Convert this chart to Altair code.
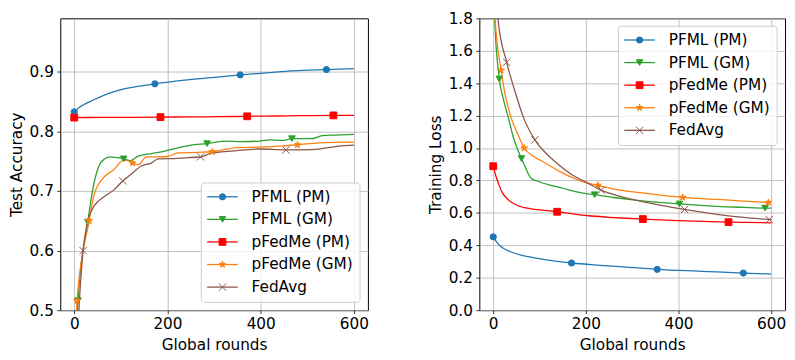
import altair as alt
import pandas as pd

SERIES = ["PFML (PM)", "PFML (GM)", "pFedMe (PM)", "pFedMe (GM)", "FedAvg"]
COLORS = ["#1f77b4", "#2ca02c", "#ff0000", "#ff7f0e", "#8c564b"]
STAR = ("M0,-1L0.2245,-0.309L0.9511,-0.309L0.3633,0.118L0.5878,0.809L0,0.382"
        "L-0.5878,0.809L-0.3633,0.118L-0.9511,-0.309L-0.2245,-0.309Z")
XMARK = "M-1,-1L1,1M-1,1L1,-1"
SHAPES = ["circle", "triangle-down", "square", STAR, XMARK]
SIZES = [40, 55, 45, 80, 45]

X_TICKS = [0, 200, 400, 600]
ACC_TICKS = [0.5, 0.6, 0.7, 0.8, 0.9]
LOSS_TICKS = [0.0, 0.2, 0.4, 0.6, 0.8, 1.0, 1.2, 1.4, 1.6, 1.8]

# ---------------- Test accuracy ----------------
acc_pfml_pm_r = [0, 10, 20, 39, 74, 109, 140, 173, 243, 300, 356, 420, 480, 541, 600]
acc_pfml_pm_v = [0.833, 0.840, 0.845, 0.852, 0.864, 0.872, 0.876, 0.880, 0.8866, 0.891, 0.895, 0.899, 0.902, 0.904, 0.9055]
acc_pfml_pm_m = [0, 173, 356, 541]

acc_pfml_gm_r = [0, 8, 29, 39, 53, 65, 77, 92, 106, 120, 137, 165, 194, 220, 250, 285, 327, 360, 398, 419, 447, 467, 490, 510, 532, 560, 600]
acc_pfml_gm_v = [0.30, 0.516, 0.648, 0.700, 0.742, 0.754, 0.7575, 0.756, 0.754, 0.751, 0.7586, 0.763, 0.767, 0.772, 0.777, 0.7796, 0.784, 0.783, 0.784, 0.786, 0.785, 0.788, 0.788, 0.788, 0.793, 0.794, 0.795]
acc_pfml_gm_m = [8, 29, 106, 285, 467]

acc_pfedme_pm_r = [0, 60, 120, 185, 250, 310, 371, 430, 490, 556, 600]
acc_pfedme_pm_v = [0.8234, 0.8236, 0.8237, 0.8241, 0.8245, 0.8248, 0.8255, 0.826, 0.8265, 0.827, 0.827]
acc_pfedme_pm_m = [0, 185, 371, 556]

acc_pfedme_gm_r = [0, 6, 32, 42, 60, 85, 106, 115, 125, 137, 155, 180, 200, 222, 264, 296, 349, 412, 450, 479, 525, 600]
acc_pfedme_gm_v = [0.30, 0.516, 0.650, 0.692, 0.720, 0.736, 0.752, 0.751, 0.747, 0.744, 0.7575, 0.7575, 0.758, 0.764, 0.765, 0.766, 0.773, 0.774, 0.776, 0.7776, 0.781, 0.782]
acc_pfedme_gm_m = [6, 32, 125, 296, 479]

acc_fedavg_r = [0, 10, 19, 28, 39, 53, 67, 85, 104, 120, 144, 165, 180, 222, 243, 271, 292, 349, 398, 454, 510, 574, 600]
acc_fedavg_v = [0.30, 0.50, 0.600, 0.647, 0.670, 0.684, 0.692, 0.702, 0.717, 0.727, 0.742, 0.747, 0.754, 0.755, 0.756, 0.7575, 0.763, 0.768, 0.7706, 0.769, 0.7696, 0.776, 0.777]
acc_fedavg_m = [19, 104, 271, 454]

# ---------------- Training loss ----------------
loss_pfml_pm_r = [0, 11, 20, 39, 60, 96, 130, 169, 230, 286, 354, 450, 540, 600]
loss_pfml_pm_v = [0.452, 0.407, 0.385, 0.359, 0.340, 0.320, 0.304, 0.291, 0.277, 0.266, 0.252, 0.240, 0.229, 0.223]
loss_pfml_pm_m = [0, 169, 354, 540]

loss_pfml_gm_r = [0, 3, 13, 22, 33, 44, 50, 61, 68, 75, 81, 96, 124, 150, 188, 219, 260, 307, 350, 402, 483, 540, 587, 600]
loss_pfml_gm_v = [2.05, 1.80, 1.426, 1.30, 1.183, 1.06, 1.01, 0.935, 0.89, 0.845, 0.815, 0.795, 0.77, 0.752, 0.725, 0.712, 0.695, 0.679, 0.667, 0.655, 0.640, 0.634, 0.630, 0.630]
loss_pfml_gm_m = [13, 61, 219, 402, 587]

loss_pfedme_pm_r = [0, 5, 12, 19, 33, 54, 82, 110, 138, 170, 202, 250, 286, 323, 399, 450, 508, 600]
loss_pfedme_pm_v = [0.888, 0.834, 0.776, 0.728, 0.679, 0.644, 0.625, 0.616, 0.607, 0.595, 0.584, 0.573, 0.567, 0.562, 0.553, 0.548, 0.543, 0.539]
loss_pfedme_pm_m = [0, 138, 323, 508]

loss_pfedme_gm_r = [0, 4, 17, 25, 39, 53, 67, 89, 110, 145, 181, 200, 226, 270, 307, 360, 409, 483, 540, 594, 600]
loss_pfedme_gm_v = [2.05, 1.80, 1.48, 1.339, 1.183, 1.086, 1.0, 0.945, 0.912, 0.853, 0.805, 0.786, 0.770, 0.742, 0.728, 0.710, 0.696, 0.683, 0.673, 0.664, 0.663]
loss_pfedme_gm_m = [17, 67, 226, 409, 594]

loss_fedavg_r = [0, 10, 29, 46, 66, 90, 124, 140, 170, 200, 233, 270, 307, 360, 413, 483, 540, 596, 600]
loss_fedavg_v = [2.20, 1.80, 1.529, 1.358, 1.183, 1.05, 0.94, 0.90, 0.835, 0.79, 0.74, 0.705, 0.679, 0.648, 0.621, 0.591, 0.573, 0.559, 0.558]
loss_fedavg_m = [29, 90, 233, 413, 596]


def build(rows):
    recs = []
    for name, rs, vs, ms in rows:
        for r, v in zip(rs, vs):
            recs.append({"series": name, "round": r, "value": v, "marker": r in ms})
    return pd.DataFrame(recs)


acc_df = build([
    (SERIES[0], acc_pfml_pm_r, acc_pfml_pm_v, acc_pfml_pm_m),
    (SERIES[1], acc_pfml_gm_r, acc_pfml_gm_v, acc_pfml_gm_m),
    (SERIES[2], acc_pfedme_pm_r, acc_pfedme_pm_v, acc_pfedme_pm_m),
    (SERIES[3], acc_pfedme_gm_r, acc_pfedme_gm_v, acc_pfedme_gm_m),
    (SERIES[4], acc_fedavg_r, acc_fedavg_v, acc_fedavg_m),
])
loss_df = build([
    (SERIES[0], loss_pfml_pm_r, loss_pfml_pm_v, loss_pfml_pm_m),
    (SERIES[1], loss_pfml_gm_r, loss_pfml_gm_v, loss_pfml_gm_m),
    (SERIES[2], loss_pfedme_pm_r, loss_pfedme_pm_v, loss_pfedme_pm_m),
    (SERIES[3], loss_pfedme_gm_r, loss_pfedme_gm_v, loss_pfedme_gm_m),
    (SERIES[4], loss_fedavg_r, loss_fedavg_v, loss_fedavg_m),
])
legend_df = pd.DataFrame({"series": SERIES})
one_row = pd.DataFrame({"k": [0]})

FONT = "DejaVu Sans"
FS = 15.5
H = 296

col_scale = alt.Scale(domain=SERIES, range=COLORS)
shape_scale = alt.Scale(domain=SERIES, range=SHAPES)
size_scale = alt.Scale(domain=SERIES, range=SIZES)


def panel(df, width, ydomain, yticks, ytitle, leg_left, leg_top):
    x = alt.X("round:Q", title="Global rounds",
              scale=alt.Scale(domain=[-30, 630], nice=False, zero=False),
              axis=alt.Axis(values=X_TICKS, format="d", labelFlush=False))
    y = alt.Y("value:Q", title=ytitle,
              scale=alt.Scale(domain=ydomain, nice=False, zero=False),
              axis=alt.Axis(values=yticks, format=".1f", labelFlush=False))
    base = alt.Chart(df)
    lines = base.mark_line(clip=True, strokeWidth=1.3, interpolate="monotone").encode(
        x=x, y=y,
        color=alt.Color("series:N", scale=col_scale, legend=None),
        detail="series:N",
    )
    pts = base.transform_filter("datum.marker").mark_point(
        filled=True, opacity=1, strokeWidth=1, clip=True).encode(
        x=x, y=y,
        fill=alt.Fill("series:N", scale=col_scale, legend=None),
        stroke=alt.Stroke("series:N", scale=col_scale, legend=None),
        shape=alt.Shape("series:N", scale=shape_scale, legend=None),
        size=alt.Size("series:N", scale=size_scale, legend=None),
    )
    data_layer = alt.layer(lines, pts)

    lw, lh = 161, 121
    ly = alt.Y("series:N", axis=None,
               scale=alt.Scale(type="point", domain=SERIES, padding=0,
                               range=[leg_top + 14, leg_top + 14 + 4 * 22.9]))
    box = alt.Chart(one_row).mark_rect(
        fill="white", fillOpacity=0.8, stroke="#cccccc", strokeWidth=1, cornerRadius=3
    ).encode(x=alt.value(leg_left), x2=alt.value(leg_left + lw),
             y=alt.value(leg_top), y2=alt.value(leg_top + lh))
    lb = alt.Chart(legend_df)
    lrules = lb.mark_rule(strokeWidth=1.3).encode(
        x=alt.value(leg_left + 6), x2=alt.value(leg_left + 37), y=ly,
        color=alt.Color("series:N", scale=col_scale, legend=None))
    lpts = lb.mark_point(filled=True, opacity=1, strokeWidth=1).encode(
        x=alt.value(leg_left + 21.5), y=ly,
        fill=alt.Fill("series:N", scale=col_scale, legend=None),
        stroke=alt.Stroke("series:N", scale=col_scale, legend=None),
        shape=alt.Shape("series:N", scale=shape_scale, legend=None),
        size=alt.Size("series:N", scale=size_scale, legend=None))
    ltext = lb.mark_text(align="left", baseline="middle", fontSize=FS, font=FONT,
                         color="black").encode(
        x=alt.value(leg_left + 51), y=ly, text="series:N")
    legend_layer = alt.layer(box, lrules, lpts, ltext)

    return alt.layer(data_layer, legend_layer).resolve_scale(y="independent").properties(
        width=width, height=H)


left = panel(acc_df, 312, [0.5, 0.99], ACC_TICKS, "Test Accuracy",
             312 - 8 - 161, H - 8 - 121)
right = panel(loss_df, 310, [0.0, 1.8], LOSS_TICKS, "Training Loss",
              310 - 8 - 161, 8)

chart = alt.hconcat(left, right, spacing=58).properties(padding=0).configure(
    font=FONT
).configure_view(
    stroke="black", strokeWidth=1
).configure_axis(
    grid=True, gridColor="#b0b0b0", gridWidth=0.8, domain=False,
    tickColor="black", tickSize=3.5, tickWidth=0.8,
    labelFont=FONT, labelFontSize=FS, labelColor="black", labelPadding=3.5,
    titleFont=FONT, titleFontSize=FS, titleFontWeight="normal", titleColor="black",
    titlePadding=5,
)

chart.save("out.html", embed_options={"renderer": "svg", "actions": False})
